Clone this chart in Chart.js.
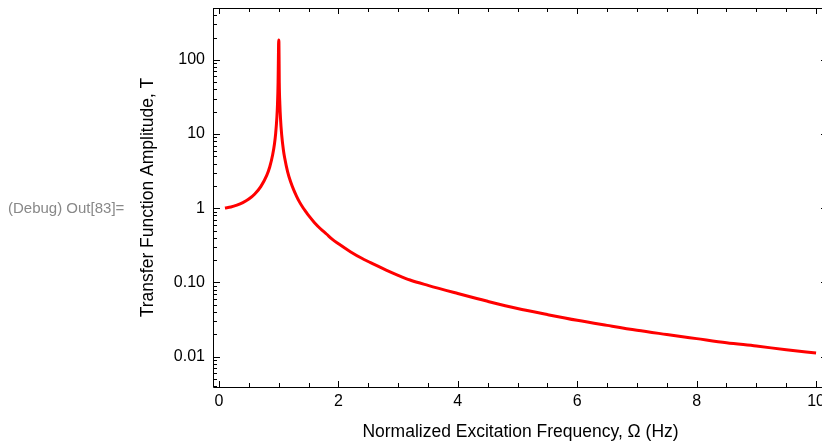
<!DOCTYPE html>
<html>
<head>
<meta charset="utf-8">
<script src="https://cdn.jsdelivr.net/npm/chart.js@4/dist/chart.umd.min.js"></script>
<style>
  html, body { margin: 0; padding: 0; background: #fff; overflow: hidden; }
  #wrap { position: relative; width: 830px; height: 443px; }
  #out { position: absolute; left: 8px; top: 199px; font: 15px "Liberation Sans", Arial, sans-serif; color: #888; white-space: nowrap; }
</style>
</head>
<body>
<div id="wrap">
  <canvas id="myChart" width="830" height="443"></canvas>
  <div id="out">(Debug) Out[83]=</div>
</div>
<script>
// frequency ratio (Omega) and transfer amplitude
const omega = [0.1, 0.2, 0.3, 0.4, 0.5, 0.6, 0.7, 0.8, 0.85, 0.9, 0.93, 0.95, 0.97, 0.98, 0.99, 0.995,
  1.0, 1.004, 1.01, 1.02, 1.03, 1.05, 1.08, 1.1, 1.15, 1.2, 1.25, 1.3, 1.35, 1.4, 1.45, 1.5, 1.6, 1.7, 1.8, 1.9,
  2.0, 2.2, 2.4, 2.6, 2.8, 3.0, 3.2, 3.5, 4.0, 4.5, 5.0, 5.5, 6.0, 6.5, 7.0, 7.5, 8.0, 8.5, 9.0, 9.5, 10];
const amplitude = [1.01, 1.04, 1.10, 1.19, 1.33, 1.56, 1.96, 2.78, 3.6, 5.3, 7.4, 10.3, 17, 25, 50, 100,
  185, 175, 50, 25, 16.5, 9.8, 6.0, 4.8, 3.1, 2.27, 1.78, 1.45, 1.21, 1.04, 0.91, 0.80, 0.64, 0.53, 0.45, 0.38,
  0.333, 0.26, 0.21, 0.175, 0.147, 0.125, 0.108, 0.0914, 0.071, 0.0557, 0.0445, 0.0369, 0.0309, 0.0264, 0.0227, 0.0199, 0.0175, 0.0154, 0.0139, 0.0124, 0.0112];

const xTicks = [0, 2, 4, 6, 8, 10];
const yTicks = [0.01, 0.1, 1, 10, 100];
const yTickLabels = ['0.01', '0.10', '1', '10', '100'];

const fontFamily = '"Liberation Sans", Arial, sans-serif';

// Mathematica style frame with inward ticks
const framePlugin = {
  id: 'frame',
  afterDraw(chart) {
    const {ctx, chartArea: a, scales: {x, y}} = chart;
    ctx.save();
    ctx.strokeStyle = '#000';
    ctx.lineWidth = 1;
    ctx.beginPath();
    ctx.rect(Math.round(a.left) + 0.5, Math.round(a.top) + 0.5, Math.round(a.right - a.left), Math.round(a.bottom - a.top));
    ctx.stroke();

    const line = (x1, y1, x2, y2) => { ctx.moveTo(x1, y1); ctx.lineTo(x2, y2); };
    ctx.beginPath();
    // x ticks, majors every 2 and minors every 0.5
    for (let v = 0; v <= 10.001; v += 0.5) {
      const px = Math.round(x.getPixelForValue(v)) + 0.5;
      const len = (Math.abs(v % 2) < 1e-6) ? 6 : 4;
      line(px, a.bottom, px, a.bottom - len);
      line(px, a.top, px, a.top + len);
    }
    // y ticks on log scale
    for (let d = -3; d <= 2; d++) {
      for (let m = 1; m <= 9; m++) {
        const v = m * Math.pow(10, d);
        if (v < y.min || v > y.max) continue;
        const py = Math.round(y.getPixelForValue(v)) + 0.5;
        const len = m === 1 ? 7 : 4;
        line(a.left, py, a.left + len, py);
        line(a.right, py, a.right - len, py);
      }
    }
    ctx.stroke();
    ctx.restore();
  }
};

new Chart(document.getElementById('myChart').getContext('2d'), {
  type: 'line',
  data: {
    datasets: [
      {
        data: omega.map((o, i) => ({x: o, y: amplitude[i]})),
        borderColor: '#ff0000',
        borderWidth: 3,
        pointRadius: 0,
        fill: false,
        cubicInterpolationMode: 'monotone',
      },
    ],
  },
  plugins: [framePlugin],
  options: {
    responsive: false,
    animation: false,
    layout: {padding: {left: 134, top: 8, right: 2, bottom: 0}},
    plugins: {legend: {display: false}, tooltip: {enabled: false}},
    scales: {
      x: {
        type: 'linear',
        min: -0.1,
        max: 10.2,
        grid: {display: false, drawTicks: false},
        border: {display: false},
        afterBuildTicks: (s) => { s.ticks = xTicks.map((v) => ({value: v})); },
        afterFit: (s) => { s.height = 56; s.paddingLeft = 0; s.paddingRight = 0; },
        ticks: {
          autoSkip: false,
          maxRotation: 0,
          padding: 5,
          color: '#000',
          font: {family: fontFamily, size: 16},
          callback: (v) => String(v),
        },
        title: {
          display: true,
          text: 'Normalized Excitation Frequency, \u03A9 (Hz)',
          color: '#000',
          font: {family: fontFamily, size: 17.5},
          padding: {top: 0, bottom: 0},
        },
      },
      y: {
        type: 'logarithmic',
        min: 0.0039,
        max: 500,
        grid: {display: false, drawTicks: false},
        border: {display: false},
        afterBuildTicks: (s) => { s.ticks = yTicks.map((v) => ({value: v})); },
        afterFit: (s) => { s.width = 79; s.paddingTop = 0; s.paddingBottom = 0; },
        ticks: {
          autoSkip: false,
          padding: 8,
          color: '#000',
          font: {family: fontFamily, size: 16},
          callback: (v) => yTickLabels[yTicks.indexOf(v)] || '',
        },
        title: {
          display: true,
          text: 'Transfer Function Amplitude, T',
          color: '#000',
          font: {family: fontFamily, size: 17.5},
          padding: {top: 4, bottom: 0},
        },
      },
    },
  },
});
</script>
</body>
</html>
